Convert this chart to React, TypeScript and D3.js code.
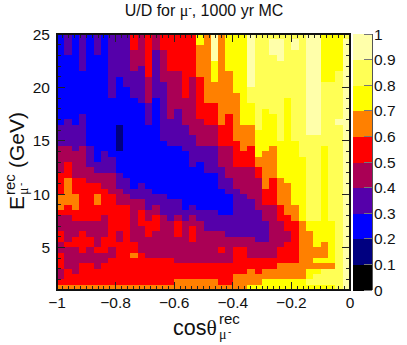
import * as d3 from 'd3'

const WIDTH = 407
const HEIGHT = 345
const FONT = '"Liberation Sans", Arial, sans-serif'
const SERIF = '"Liberation Serif", serif'

const LEVELS = [0, 0.1, 0.2, 0.3, 0.4, 0.5, 0.6, 0.7, 0.8, 0.9, 1]
const COLORS = ['#000000', '#000080', '#0000ff', '#5500aa', '#aa0055', '#ff0000', '#ff8000', '#ffff00', '#ffff55', '#ffffaa']
const PALETTE_LABELS = ['0', '0.1', '0.2', '0.3', '0.4', '0.5', '0.6', '0.7', '0.8', '0.9', '1']
const X_TICKS = [-1, -0.8, -0.6, -0.4, -0.2, 0]
const X_LABELS = ['\u22121', '\u22120.8', '\u22120.6', '\u22120.4', '\u22120.2', '0']
const Y_TICKS = [5, 10, 15, 20, 25]

const X_BINS = 40
const Y_BINS = 48

// one entry per cosine bin, left to right. "level:lastRow" runs, row 0 is the top energy bin
const COLUMN_RUNS = [
  '2:16 3:20 4:25 5:29 6:32 5:33 4:36 5:38 4:40 5:43 4:45 5:46 6:47',
  '3:3 2:15 3:20 4:23 5:26 6:31 5:33 4:38 5:39 4:43 5:46 6:47',
  '2:16 3:21 4:26 5:29 6:32 5:34 4:37 5:39 4:44 5:46 6:47',
  '3:6 2:14 3:20 4:26 5:34 4:36 5:40 4:42 5:46 6:47',
  '2:20 3:24 4:27 5:34 4:37 5:39 4:42 5:46 6:47',
  '3:3 2:23 3:25 4:27 5:29 6:31 5:34 4:39 5:40 4:43 5:46 6:47',
  '2:21 3:25 4:28 5:33 4:37 5:40 4:42 5:46 6:47',
  '3:11 2:22 3:25 4:29 5:39 4:41 5:46 6:47',
  '3:7 2:16 1:21 2:25 3:28 4:31 5:36 4:38 5:46 6:47',
  '3:9 2:26 3:29 4:31 5:46 6:47',
  '5:2 4:6 3:11 2:28 3:30 4:38 5:40 6:41 5:46 6:47',
  '4:5 3:12 2:27 3:30 4:32 5:35 4:40 5:46 6:47',
  '5:7 4:12 3:16 2:28 3:32 4:34 5:37 4:41 5:46 6:47',
  '4:2 3:11 2:29 3:31 4:33 5:36 4:41 5:46 6:47',
  '5:2 4:8 3:19 2:29 3:33 4:41 5:46 6:47',
  '5:6 4:15 3:20 2:30 3:34 4:41 5:46 6:47',
  '5:6 4:13 3:20 2:30 3:33 4:34 5:37 4:42 5:45 6:47',
  '5:11 4:16 3:21 2:32 3:34 4:42 5:45 6:47',
  '5:7 4:18 3:24 2:31 3:33 4:35 5:38 4:42 5:45 6:47',
  '7:1 6:7 5:15 4:20 3:23 2:32 3:34 4:42 5:45 6:47',
  '6:12 5:16 4:20 3:25 2:32 3:36 4:42 5:45 6:47',
  '9:4 7:8 6:12 5:16 4:20 3:25 2:32 3:36 4:42 5:45 6:47',
  '6:16 5:20 4:24 3:28 2:33 3:36 4:39 5:40 4:42 5:46 6:47',
  '7:6 6:14 5:20 4:26 3:29 2:33 3:37 4:42 5:46 6:47',
  '7:10 6:19 5:24 4:28 3:37 4:39 5:44 6:47',
  '7:16 6:21 5:24 4:29 3:37 4:39 5:44 6:47',
  '9:9 8:12 7:16 6:20 5:24 4:30 3:37 4:41 5:43 6:46 7:47',
  '8:17 7:22 6:24 5:26 4:32 3:38 4:41 5:44 6:46 7:47',
  '8:13 7:21 6:28 5:31 4:34 3:38 4:41 5:43 6:45 7:47',
  '8:0 9:3 8:14 7:20 6:26 5:31 4:41 5:43 6:45 7:47',
  '8:0 9:4 8:19 7:26 6:31 5:34 4:39 5:42 6:45 7:47',
  '8:11 7:27 6:33 5:36 4:38 5:42 6:45 7:47',
  '8:0 9:2 8:19 7:31 6:34 5:42 6:45 7:47',
  '8:22 7:34 6:45 7:47',
  '9:18 8:34 7:36 6:43 7:45 8:46 7:47',
  '9:18 8:34 7:39 6:41 7:42 6:43 7:44 8:46 7:47',
  '7:8 8:20 7:38 6:41 7:42 6:43 8:46 7:47',
  '7:8 8:34 7:42 6:43 8:46 7:47',
  '7:6 8:15 9:16 8:47',
  '8:0 9:47',
]

const x = d3.scaleLinear().domain([-1, 0]).range([57, 350])
const y = d3.scaleLinear().domain([1, 25]).range([290, 34])
const z = d3.scaleLinear().domain([0, 1]).range([290, 34])
const color = d3.scaleThreshold<number, string>().domain(LEVELS.slice(1, -1)).range(COLORS)

type Cell = { i: number; j: number; value: number }

const cells: Cell[] = COLUMN_RUNS.flatMap((runs, i) => {
  let row = 0
  return runs.split(' ').flatMap((run) => {
    const [level, last] = run.split(':').map(Number)
    const out: Cell[] = []
    for (; row <= last; row++) out.push({ i, j: row, value: level / 10 + 0.05 })
    return out
  })
})

const xMinor = d3.range(0, 51).map((k) => -1 + k * 0.02)
const yMinor = d3.range(1, 26)

export default function App() {
  const dx = x(-1 + 1 / X_BINS) - x(-1)
  const dy = y(1) - y(1 + 24 / Y_BINS)
  return (
    <svg width={WIDTH} height={HEIGHT} style={{ position: 'absolute', left: 0, top: 0, background: '#fff' }} fontFamily={FONT}>
      <text x={204} y={16} textAnchor="middle" fontSize={16} fill="#111">
        U/D for <tspan fontFamily={SERIF}>μ</tspan><tspan fontSize={10} dy={-5}>-</tspan><tspan dy={5}>, 1000 yr MC</tspan>
      </text>

      <g shapeRendering="crispEdges">
        {cells.map((c) => (
          <rect
            key={`${c.i}-${c.j}`}
            x={x(-1 + c.i / X_BINS)}
            y={y(25 - c.j / 2)}
            width={dx + 0.5}
            height={dy + 0.5}
            fill={color(c.value)}
          />
        ))}

        {/* ticks, all four sides */}
        {xMinor.map((v, k) => {
          const len = k % 10 === 0 ? 8 : 4
          return (
            <g key={k} stroke="#222">
              <line x1={x(v)} x2={x(v)} y1={290} y2={290 - len} />
              <line x1={x(v)} x2={x(v)} y1={34} y2={34 + len} />
            </g>
          )
        })}
        {yMinor.map((v) => {
          const len = v % 5 === 0 ? 8 : 4
          return (
            <g key={v} stroke="#222">
              <line x1={57} x2={57 + len} y1={y(v)} y2={y(v)} />
              <line x1={350} x2={350 - len} y1={y(v)} y2={y(v)} />
            </g>
          )
        })}
        <rect x={57} y={34} width={293} height={256} fill="none" stroke="#111" strokeWidth={1.5} />

        {/* palette */}
        {COLORS.map((c, k) => (
          <rect key={c} x={353} y={z(LEVELS[k + 1])} width={19} height={z(LEVELS[k]) - z(LEVELS[k + 1]) + 0.5} fill={c} />
        ))}
        <line x1={372} x2={372} y1={34} y2={290} stroke="#555" />
        {LEVELS.map((v) => (
          <line key={v} x1={364} x2={372} y1={z(v)} y2={z(v)} stroke="#777" />
        ))}
      </g>

      {PALETTE_LABELS.map((label, k) => (
        <text key={label} x={374} y={z(LEVELS[k]) + 5.5} fontSize={15.5} fill="#111">{label}</text>
      ))}
      {X_TICKS.map((v, k) => (
        <text key={v} x={x(v)} y={308} textAnchor="middle" fontSize={15.5} fill="#111">{X_LABELS[k]}</text>
      ))}
      {Y_TICKS.map((v) => (
        <text key={v} x={50} y={y(v) + 5.5} textAnchor="end" fontSize={15.5} fill="#111">{v}</text>
      ))}

      <text x={173} y={335} fontSize={21.5} fill="#111">cos<tspan fontFamily={SERIF}>θ</tspan></text>
      <text x={219} y={324} fontSize={15} fill="#111">rec</text>
      <text x={219} y={339} fontSize={14} fontFamily={SERIF} fill="#111">μ</text>
      <text x={228} y={335} fontSize={10} fill="#111">-</text>

      <g transform="translate(24,210) rotate(-90)" fill="#111">
        <text x={0} y={0} fontSize={21}>E</text>
        <text x={15} y={-9} fontSize={15}>rec</text>
        <text x={15} y={4} fontSize={14} fontFamily={SERIF}>μ</text>
        <text x={24} y={0} fontSize={10}>-</text>
        <text x={42} y={0} fontSize={21}>(GeV)</text>
      </g>
    </svg>
  )
}
